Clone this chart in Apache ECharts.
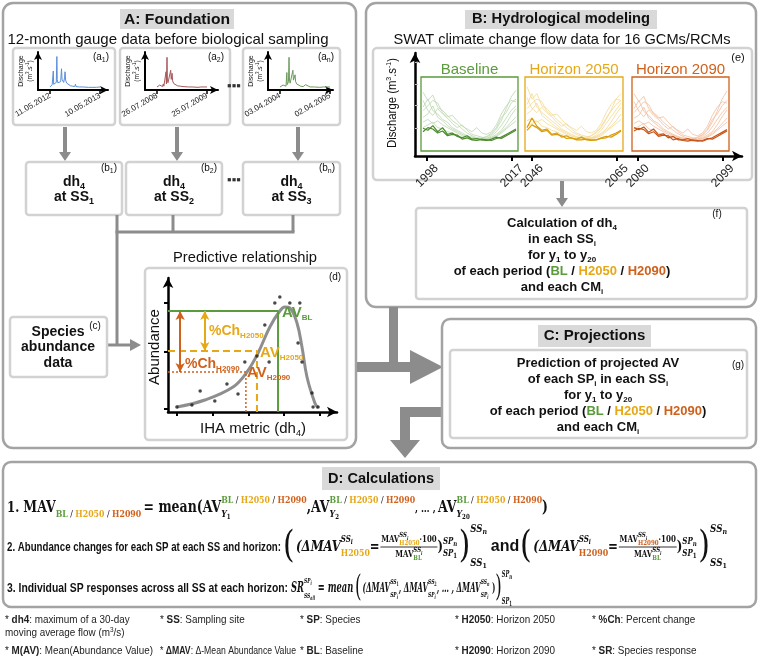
<!DOCTYPE html>
<html><head><meta charset="utf-8">
<script src="https://cdn.jsdelivr.net/npm/echarts@6/dist/echarts.min.js"></script>
<style>html,body{margin:0;padding:0;background:#fff}#main{width:759px;height:660px}</style>
</head><body><div id="main"></div>
<script>
// ================= DATA =================
// (a) 12-month gauge hydrographs: [day since window start, discharge]
const gaugeA1 = [[0,0.8],[10,0.9],[16,1.4],[20,0.9],[24,5.0],[27,1.5],[33,1.2],[40,1.1],[46,2.0],[50,8.8],[53,2.8],[57,1.9],[62,1.5],[70,1.4],[78,2.2],[84,5.6],[88,2.8],[94,2.3],[100,2.0],[106,3.2],[110,4.8],[114,2.6],[122,1.8],[135,1.3],[150,1.1],[165,1.0],[180,0.9],[186,1.5],[190,0.9],[215,0.8],[240,0.8],[246,1.3],[250,0.8],[280,0.7],[300,0.7],[306,1.2],[310,0.8],[340,0.7],[365,0.8]];
const gaugeA2 = [[0,0.8],[12,0.9],[20,1.3],[24,0.8],[40,0.9],[46,1.6],[50,1.0],[60,1.5],[66,4.8],[69,1.6],[73,8.6],[76,2.6],[80,1.9],[86,1.6],[94,2.4],[100,5.2],[104,2.8],[110,4.4],[114,2.4],[122,1.7],[135,1.3],[150,1.1],[170,1.0],[190,0.9],[196,1.4],[200,0.9],[230,0.8],[256,0.8],[262,1.3],[266,0.8],[300,0.7],[320,0.8],[326,1.2],[330,0.8],[365,0.8]];
const gaugeAn = [[0,0.8],[14,0.9],[22,1.3],[26,0.8],[44,1.0],[50,4.6],[53,1.4],[58,1.2],[62,2.2],[66,8.6],[69,2.6],[74,1.8],[80,1.5],[88,2.0],[94,5.2],[98,2.6],[104,2.2],[110,4.0],[114,2.2],[122,1.6],[135,1.2],[150,1.0],[170,0.9],[186,1.4],[190,0.9],[220,0.8],[250,0.8],[256,1.2],[260,0.8],[290,0.7],[318,0.8],[324,1.2],[328,0.8],[365,0.8]];
const gaugeStartLabels = ['11.05.2012','26.07.2008','03.04.2004'];
const gaugeEndLabels = ['10.05.2013','25.07.2009','02.04.2005'];
const gaugeTickDays = [0, 365];
const gaugeTags = ['1','2','n'];
const siteTags = ['1','2','3'];

// (e) SWAT flows per period (relative discharge over the year)
const periodNames = ['Baseline','Horizon 2050','Horizon 2090'];
const periodCodes = ['BL','H2050','H2090'];
const periodStartYears = [1998, 2046, 2080];
const periodEndYears = [2017, 2065, 2099];
const blRuns = [
 [82,70,78,60,55,48,40,35,28,22,18,15,14,16,20,28,40,58,75,85],
 [60,72,55,50,42,38,30,26,22,18,16,14,15,17,22,30,45,52,66,72],
 [45,50,62,45,40,33,28,24,20,17,15,13,12,14,18,24,33,44,55,62],
 [70,55,48,58,50,44,36,30,34,26,20,18,16,14,16,20,26,36,48,58],
 [38,42,36,40,34,30,26,22,18,16,14,13,12,13,15,18,24,30,38,46],
 [55,62,70,66,52,46,48,40,32,28,24,30,22,20,24,34,50,62,70,68],
 [30,34,38,30,28,24,22,18,16,14,12,12,11,12,14,17,22,28,34,40]];
const h2050Runs = [
 [90,72,80,62,58,50,42,36,30,24,20,17,15,18,22,30,42,56,72,80],
 [64,80,60,52,46,40,34,28,24,20,17,15,16,18,24,32,44,54,64,70],
 [50,56,66,48,42,36,30,26,22,18,16,14,13,15,19,26,36,46,56,66],
 [74,58,52,60,52,46,38,32,36,28,22,19,17,15,17,22,28,38,50,60],
 [40,44,38,42,36,32,28,24,20,17,15,14,13,14,16,20,26,32,40,50],
 [58,66,72,68,54,48,50,42,34,30,26,32,24,22,26,36,52,64,72,70],
 [32,36,40,32,30,26,24,20,17,15,13,13,12,13,15,18,24,30,36,42]];
const h2090Runs = [
 [80,68,76,58,52,46,38,32,26,21,17,14,13,15,19,26,38,54,72,84],
 [58,70,54,48,40,36,28,24,20,17,15,13,14,16,20,28,42,50,62,70],
 [44,48,60,44,38,32,26,22,19,16,14,12,11,13,17,22,31,42,52,60],
 [68,54,46,56,48,42,34,28,32,24,19,17,15,13,15,19,24,34,46,56],
 [36,40,35,38,32,28,24,20,17,15,13,12,11,12,14,17,22,28,36,44],
 [52,60,68,64,50,44,46,38,30,26,22,28,20,18,22,32,48,60,68,66],
 [28,32,36,28,26,22,20,17,15,13,11,11,10,11,13,16,20,26,32,38]];
const blMedians = [
 [29,26,33,24,30,20,22,17,15,18,13,14,12,11,13,16,14,18,22,26],
 [24,30,28,22,25,18,20,19,13,15,12,11,13,12,11,14,16,20,24,28]];
const h2050Medians = [
 [30,44,32,26,28,20,22,16,18,14,13,16,12,11,12,15,17,16,20,25],
 [26,34,30,24,26,19,20,18,14,15,12,12,13,12,12,14,15,19,22,26]];
const h2090Medians = [
 [30,27,31,23,28,19,21,15,17,12,12,14,11,10,11,14,13,17,21,25],
 [25,29,27,21,24,17,19,18,12,14,11,10,12,11,10,13,15,19,23,27]];

// (d) predictive relationship
const obsDh4 = [1.00,1.42,1.65,2.06,2.40,2.71,2.90,3.24,3.46,3.58,3.74,3.88,4.16,4.44,4.39,4.50,4.78,4.81,4.95];
const obsAbundance = [0.5,0.7,2.1,1.1,2.8,1.8,5.0,5.6,8.7,5.0,10.9,11.5,10.9,10.9,6.9,5.0,1.9,0.5,0.5];
const fitDh4 = [1.00,1.78,2.57,2.96,3.27,3.60,3.88,4.02,4.16,4.36,4.50,4.64,4.86,4.95];
const fitAbundance = [0.5,1.2,2.5,4.0,5.9,8.5,10.1,10.5,10.4,8.9,6.5,3.5,0.9,0.4];
const projDh4 = [3.83, 3.24, 2.93];   // BL, H2050, H2090
const projAV = [10.1, 6.1, 4.0];
const dTickX = [1,2,3,4,5];
const dTickY = [0.3, 6.0, 10.9];

// ================= STYLE =================
const SANS = '"Liberation Sans", Arial, sans-serif';
const SERIF = '"DejaVu Serif", "Liberation Serif", serif';
const GREEN = '#5a9b3b', YEL = '#e6a817', ORA = '#d0611c', GREY = '#8c8c8c';
const PANEL = '#a3a3a3', INNER = '#d2d2d2', TBOX = '#d9d9d9';
const periodColors = [GREEN, YEL, ORA];
const runColors = ['#bcd8ae','#f4da94','#f3bf9e'];
const medColors = ['#4a8a2c','#d99c0a','#c55418'];
const hydroColors = ['#5b8ed8','#a6585b','#6c9a5c'];

// ================= HELPERS =================
const G = [];
function rect(x,y,w,h,o={}){G.push({type:'rect',z:o.z??-1,shape:{x,y,width:w,height:h,r:o.r||0},style:{fill:o.fill||'none',stroke:o.stroke||'none',lineWidth:o.lw||0}});}
function pline(pts,o={}){G.push({type:'polyline',z:o.z??-1,shape:{points:pts},style:{stroke:o.color||GREY,lineWidth:o.lw||3,fill:null}});}
function poly(pts,o={}){G.push({type:'polygon',z:o.z??-1,shape:{points:pts},style:{fill:o.fill||GREY}});}
function block(x,y,w,h){rect(x,y,w,h,{fill:GREY});}

const mctx = document.createElement('canvas').getContext('2d');
function fstr(o){return (o.i?'italic ':'')+(o.b?'bold ':'')+o.size+'px '+(o.f||SANS);}
function T(s,o){return {k:'t',s,o};}
function S(sup,sub,o={}){return {k:'s',sup,sub,su:o.su??-8,sd:o.sd??5};}
function F(num,den,o={}){return {k:'f',num,den,nu:o.nu??-9,de:o.de??6,ly:o.ly??-5};}
function Gp(w){return {k:'g',w};}
function lay(toks,x0,dy0,out){
  let x=x0;
  for(const t of toks){
    if(t.k==='t'){mctx.font=fstr(t.o);const w=mctx.measureText(t.s).width;out.items.push({s:t.s,o:t.o,x,dy:dy0+(t.o.dy||0)});x+=w;}
    else if(t.k==='g'){x+=t.w;}
    else if(t.k==='s'){const w1=t.sup?lay(t.sup,x,dy0+t.su,out):0;const w2=t.sub?lay(t.sub,x,dy0+t.sd,out):0;x+=Math.max(w1,w2);}
    else if(t.k==='f'){const d={items:[],lines:[]};const w1=lay(t.num,0,0,d),w2=lay(t.den,0,0,d);const w=Math.max(w1,w2)+2;
      lay(t.num,x+(w-w1)/2,dy0+t.nu,out);lay(t.den,x+(w-w2)/2,dy0+t.de,out);out.lines.push({x1:x,x2:x+w,dy:dy0+t.ly});x+=w;}
  }
  return x-x0;
}
function math(x,base,toks,o={}){
  const out={items:[],lines:[]};
  const w=lay(toks,0,0,out);
  let s=o.fit?o.fit/w:(o.s||1);
  if(o.maxW && w*s>o.maxW) s=o.maxW/w;
  const ax=o.align==='center'?w/2:(o.align==='right'?w:0);
  const ch=[];
  out.items.forEach(it=>ch.push({type:'text',z:10,x:it.x-ax,y:it.dy-0.35*it.o.size,
    style:{text:it.s,font:fstr(it.o),fill:it.o.c||o.c||'#111',textAlign:'left',textVerticalAlign:'middle',align:'left',verticalAlign:'middle'}}));
  out.lines.forEach(l=>ch.push({type:'line',z:10,shape:{x1:l.x1-ax,y1:l.dy,x2:l.x2-ax,y2:l.dy},style:{stroke:'#000',lineWidth:0.9}}));
  G.push({type:'group',x,y:base,rotation:o.rot||0,scaleX:s,z:10,children:ch});
}
const n=(size,extra={})=>Object.assign({f:SANS,size},extra);
const b=(size,extra={})=>Object.assign({f:SANS,b:true,size},extra);
const fb=(size,extra={})=>Object.assign({f:SERIF,b:true,size},extra);
function subTxt(main,sub,size,extra={}){return [T(main,b(size,extra)),T(sub,b(Math.round(size*0.62),Object.assign({},extra,{dy:size*0.22})))];}
function tag(x,y,letter,idx){math(x,y,[T('('+letter,n(10)),T(idx,n(7,{dy:2})),T(')',n(10))],{align:'center'});}
function vArrow(x,y1,y2){pline([[x,y1],[x,y2-8]],{lw:4});poly([[x-6,y2-9],[x+6,y2-9],[x,y2]]);}

// ================= PANELS / BOXES =================
// Panel A
rect(3,3,353,445,{r:10,stroke:PANEL,lw:2.5});
rect(120,9,114,20,{fill:TBOX});
math(177,25,[T('A: Foundation',b(15))],{align:'center',fit:106});
math(168,45.5,[T('12-month gauge data before biological sampling',n(15))],{align:'center',fit:321});
const gaugeBoxes=[{x:13,w:102},{x:120,w:110},{x:243,w:97}];
gaugeBoxes.forEach((bx,i)=>{rect(bx.x,48,bx.w,77,{r:3,stroke:INNER,lw:2.5});tag(bx.x+bx.w-14,61,'a',gaugeTags[i]);});
math(234,91,[T('▪▪▪',b(13,{c:'#333'}))],{align:'center'});
[65,177,298].forEach(x=>vArrow(x,127,161));
const siteBoxes=[{x:26,w:96},{x:126,w:96},{x:243,w:97}];
siteBoxes.forEach((bx,i)=>{
  rect(bx.x,162,bx.w,53,{r:3,stroke:INNER,lw:2.5});
  tag(bx.x+bx.w-13,172,'b',gaugeTags[i]);
  math(bx.x+bx.w/2,187,subTxt('dh','4',14),{align:'center'});
  math(bx.x+bx.w/2,202,subTxt('at SS',siteTags[i],14),{align:'center'});
});
math(234,185,[T('▪▪▪',b(13,{c:'#333'}))],{align:'center'});
pline([[117,215],[117,232]]);pline([[173,215],[173,232]]);pline([[293,215],[293,232]]);
pline([[115.5,232],[294.5,232]]);
pline([[117,232],[117,345]]);
pline([[107,345],[131,345]]);poly([[130,339],[130,351],[141,345]]);
rect(10,317,97,60,{r:3,stroke:INNER,lw:2.5});
math(58,337,[T('Species',b(14))],{align:'center'});
math(58,352,[T('abundance',b(14))],{align:'center'});
math(58,368,[T('data',b(14))],{align:'center'});
math(95,330,[T('(c)',n(10))],{align:'center'});
math(245,263.5,[T('Predictive relationship',n(15))],{align:'center',fit:144});
rect(145,268,202,172,{r:4,stroke:INNER,lw:2.5});
math(335,281,[T('(d)',n(10))],{align:'center'});
math(160.5,347,[T('Abundance',n(15))],{align:'center',rot:Math.PI/2});
math(253,434,[T('IHA metric (dh',n(15)),T('4',n(9,{dy:3})),T(')',n(15))],{align:'center'});
math(282,318,[T('AV',b(15,{c:GREEN})),T('BL',b(8,{c:GREEN,dy:3}))]);
math(260,358,[T('AV',b(15,{c:YEL})),T('H2050',b(8,{c:YEL,dy:3}))]);
math(247,378,[T('AV',b(15,{c:ORA})),T('H2090',b(8,{c:ORA,dy:3}))]);
math(209,336,[T('%Ch',b(14,{c:YEL})),T('H2050',b(8,{c:YEL,dy:3}))]);
math(185,369,[T('%Ch',b(14,{c:ORA})),T('H2090',b(8,{c:ORA,dy:3}))]);

// Panel B
rect(366,3,390,304,{r:10,stroke:PANEL,lw:2.5});
rect(465,10,192,19,{fill:TBOX});
math(561,24.5,[T('B: Hydrological modeling',b(15))],{align:'center',fit:178});
math(562,45,[T('SWAT climate change flow data for 16 GCMs/RCMs',n(15))],{align:'center',fit:337});
rect(373,48,379,132,{r:4,stroke:INNER,lw:2.5});
math(738,62,[T('(e)',n(11))],{align:'center'});
math(397,103,[T('Discharge (m',n(13)),T('3',n(8,{dy:-5})),T('.s',n(13)),T('-1',n(8,{dy:-5})),T(')',n(13))],{align:'center',rot:Math.PI/2,fit:90});
const eBoxes=[{x:421,w:97},{x:525,w:98},{x:632,w:97}];
eBoxes.forEach((bx,p)=>{rect(bx.x,77,bx.w,74,{stroke:periodColors[p],lw:1.3,z:5});
  math(bx.x+bx.w/2,75,[T(periodNames[p],n(15,{c:periodColors[p]}))],{align:'center'});});
vArrow(562,181,207);
rect(416,208,331,91,{r:3,stroke:INNER,lw:2.5});
math(717,218,[T('(f)',n(10))],{align:'center'});
const B13=b(13), SB8={dy:2.5};
function sb(s){return T(s,b(8,SB8));}
function periodLine(){return [T('of each period (',B13),T('BL',b(13,{c:GREEN})),T(' / ',B13),T('H2050',b(13,{c:YEL})),T(' / ',B13),T('H2090',b(13,{c:ORA})),T(')',B13)];}
math(562,228,[T('Calculation of dh',B13),sb('4')],{align:'center'});
math(562,244,[T('in each SS',B13),sb('i')],{align:'center'});
math(562,260,[T('for y',B13),sb('1'),T(' to y',B13),sb('20')],{align:'center'});
math(562,276,periodLine(),{align:'center'});
math(562,292,[T('and each CM',B13),sb('i')],{align:'center'});

// thick arrows
block(389,307,9,65);
block(357,362,55,10);
poly([[410,350],[443,367],[410,384]]);
block(400,407,42,10);
block(400,407,10,34);
poly([[390,440],[420,440],[405,458]]);

// Panel C
rect(442,319,314,129,{r:8,stroke:PANEL,lw:2.5});
rect(538,325,113,22,{fill:TBOX});
math(594.5,341.5,[T('C: Projections',b(15))],{align:'center'});
rect(450,350,297,88,{r:3,stroke:INNER,lw:2.5});
math(738,369,[T('(g)',n(10))],{align:'center'});
math(598,368,[T('Prediction of projected AV',B13)],{align:'center'});
math(598,384,[T('of each SP',B13),sb('i'),T(' in each SS',B13),sb('i')],{align:'center'});
math(598,400,[T('for y',B13),sb('1'),T(' to y',B13),sb('20')],{align:'center'});
math(598,416,periodLine(),{align:'center'});
math(598,432,[T('and each CM',B13),sb('i')],{align:'center'});

// Panel D
rect(3,462,753,145,{r:8,stroke:PANEL,lw:2.5});
rect(322,467,118,23,{fill:TBOX});
math(381,484.5,[T('D: Calculations',b(15))],{align:'center',fit:106});
function codes(sz){return [T('BL',fb(sz,{c:GREEN})),T(' / ',fb(sz,{b:false})),T('H2050',fb(sz,{c:YEL})),T(' / ',fb(sz,{b:false})),T('H2090',fb(sz,{c:ORA}))];}
function yidx(k){return [T('Y',fb(10,{i:true})),T(k,fb(7,{dy:2}))];}
math(7,513,[T('1. ',fb(15)),T('MAV',fb(16)),S(null,codes(10),{sd:5}),Gp(3),T('= mean(',fb(16)),
  T('AV',fb(16)),S(codes(10),yidx('1'),{su:-9,sd:5}),T(',',fb(16)),
  T('AV',fb(16)),S(codes(10),yidx('2'),{su:-9,sd:5}),T(', … ,',fb(11)),Gp(3),
  T('AV',fb(16)),S(codes(10),yidx('20'),{su:-9,sd:5}),T(')',fb(16))],{fit:541});
function ssi(sz){return [T('SS',fb(sz,{i:true})),T('i',fb(Math.round(sz*0.75),{i:true,dy:2}))];}
function idx(m,k,sz,it=true){return [T(m,fb(sz,{i:true})),T(k,fb(Math.round(sz*0.75),{i:it,dy:2}))];}
function dmav(code,col){return [
  T('(',fb(38,{b:false,dy:8})),Gp(2),
  T('(ΔMAV',fb(15,{i:true})),S(ssi(9),[T(code,fb(10,{c:col}))],{su:-9,sd:5}),
  T('=',fb(15)),Gp(1),
  F([T('MAV',fb(9)),S(ssi(7),[T(code,fb(7,{c:col}))],{su:-5,sd:3}),T('·100',fb(9))],
    [T('MAV',fb(9)),S(ssi(7),[T('BL',fb(7,{c:GREEN}))],{su:-5,sd:3})]),
  T(')',fb(15)),S(idx('SP','n',9),idx('SP','1',9,false),{su:-7,sd:5}),
  Gp(2),T(')',fb(38,{b:false,dy:8})),
  S(idx('SS','n',11),idx('SS','1',11,false),{su:-19,sd:15})];}
math(7,552,[T('2. Abundance changes for each SP at each SS and horizon:',b(13))],{fit:274});
math(283,552,dmav('H2050',YEL),{fit:204});
math(505,552,[T('and',b(16))],{align:'center'});
math(520,552,dmav('H2090',ORA),{fit:207});
math(7,593,[T('3. Individual SP responses across all SS at each horizon:',b(13))],{fit:281});
math(291,593,[T('SR',fb(15,{i:true})),S(idx('SP','i',8),idx('SS','all',8),{su:-9,sd:6}),T(' = ',fb(15)),T('mean',fb(15,{i:true})),Gp(3),
  T('(',fb(30,{b:false,dy:6})),Gp(2),T('(ΔMAV',fb(13,{i:true})),S(idx('SS','1',8,false),idx('SP','i',8),{su:-8,sd:5}),
  T(', ΔMAV',fb(13,{i:true})),S(idx('SS','2',8,false),idx('SP','i',8),{su:-8,sd:5}),
  T(', … , ΔMAV',fb(13,{i:true})),S(idx('SS','n',8),idx('SP','i',8),{su:-8,sd:5}),
  T(' )',fb(13)),T(')',fb(30,{b:false,dy:6})),S(idx('SP','n',9),idx('SP','1',9,false),{su:-15,sd:12})],{fit:221});

// footnotes
const FN=n(11.5,{c:'#222'}), FB=b(11.5,{c:'#222'});
const notes1=[['dh4',': maximum of a 30-day'],['SS',': Sampling site'],['SP',': Species'],['H2050',': Horizon 2050'],['%Ch',': Percent change']];
const notes2=[['M(AV)',': Mean(Abundance Value)'],['ΔMAV',': Δ-Mean Abundance Value'],['BL',': Baseline'],['H2090',': Horizon 2090'],['SR',': Species response']];
const noteX=[5,160,300,455,592], noteW=[148,136,148,132,158];
notes1.forEach((t,i)=>math(noteX[i],624,[T('* ',FN),T(t[0],FB),T(t[1],FN)],{s:0.86,maxW:noteW[i]}));
math(5,637,[T('moving average flow (m',FN),T('3',n(7.5,{c:'#222',dy:-4})),T('/s)',FN)],{s:0.86,maxW:noteW[0]});
notes2.forEach((t,i)=>math(noteX[i],655,[T('* ',FN),T(t[0],FB),T(t[1],FN)],{s:0.86,maxW:noteW[i]}));

// ================= CHARTS =================
const grids=[],xAxes=[],yAxes=[],series=[];
function addGrid(g,xa,ya){g.outerBoundsMode='none';g.containLabel=false;grids.push(g);xa.gridIndex=ya.gridIndex=grids.length-1;xAxes.push(xa);yAxes.push(ya);return grids.length-1;}
const arrowLine=(w,sz)=>({show:true,onZero:false,lineStyle:{color:'#000',width:w},symbol:['none','arrow'],symbolSize:sz});
const hidden={show:false};

// (a) mini hydrographs
[gaugeA1,gaugeA2,gaugeAn].forEach((data,i)=>{
  const left=gaugeBoxes[i].x+25, width=[70,73,65][i], pxDay=50/365;
  const k=addGrid({left,top:52,width,height:38},
    {type:'value',min:-12/pxDay,max:(width-12)/pxDay,axisLine:arrowLine(2,[6,8]),
     axisTick:{show:true,customValues:gaugeTickDays,length:4,lineStyle:{color:'#000',width:1.5}},
     axisLabel:{show:true,customValues:gaugeTickDays,formatter:v=>v===0?gaugeStartLabels[i]:gaugeEndLabels[i],rotate:30,fontSize:8,margin:5,color:'#222',fontFamily:SANS},
     splitLine:hidden},
    {type:'value',min:0,max:10,axisLine:arrowLine(2,[6,8]),axisTick:hidden,axisLabel:hidden,splitLine:hidden});
  series.push({type:'line',xAxisIndex:k,yAxisIndex:k,data,showSymbol:false,silent:true,lineStyle:{color:hydroColors[i],width:1},z:4});
  const ax=left;
  math(ax-14,71,[T('Discharge',n(7))],{align:'center',rot:Math.PI/2});
  math(ax-6,71,[T('(m',n(6.5)),T('3',n(4.5,{dy:-3})),T('.s',n(6.5)),T('-1',n(4.5,{dy:-3})),T(')',n(6.5))],{align:'center',rot:Math.PI/2});
});

// (e) common time axis
const eOffsets=[0,23.5,47.2];
const eTickVals=[],eTickLabels=[];
periodStartYears.forEach((y0,p)=>{eTickVals.push(eOffsets[p],eOffsets[p]+periodEndYears[p]-y0);eTickLabels.push(String(y0),String(periodEndYears[p]));});
const ek=addGrid({left:415,top:53,width:327,height:103},
  {type:'value',min:-2.7,max:70.5,axisLine:arrowLine(2.5,[8,10]),
   axisTick:{show:true,customValues:eTickVals,length:5,lineStyle:{color:'#000',width:2}},
   axisLabel:{show:true,customValues:eTickVals,formatter:v=>eTickLabels[eTickVals.indexOf(v)],rotate:45,align:'center',verticalAlign:'middle',fontSize:12,margin:20,color:'#222',fontFamily:SANS},
   splitLine:hidden},
  {type:'value',min:0,max:10,axisLine:arrowLine(2.5,[8,10]),
   axisTick:{show:true,inside:true,customValues:[2.7,4.9,7.0,9.1],length:3,lineStyle:{color:'#bbb',width:1}},axisLabel:hidden,splitLine:hidden});
series.push({type:'line',xAxisIndex:ek,yAxisIndex:ek,data:[],silent:true});
// (e) period panels
const runSets=[blRuns,h2050Runs,h2090Runs], medSets=[blMedians,h2050Medians,h2090Medians];
eBoxes.forEach((bx,p)=>{
  const cats=blRuns[0].map((_,j)=>j);
  const k=addGrid({left:bx.x+2,top:80,width:bx.w-4,height:68},
    {type:'category',data:cats,boundaryGap:false,axisLine:hidden,axisTick:hidden,axisLabel:hidden,splitLine:hidden},
    {type:'value',min:0,max:100,axisLine:hidden,axisTick:hidden,axisLabel:hidden,splitLine:hidden});
  runSets[p].forEach(r=>series.push({type:'line',xAxisIndex:k,yAxisIndex:k,data:r,showSymbol:false,silent:true,lineStyle:{color:runColors[p],width:0.9,opacity:0.9},z:3}));
  medSets[p].forEach(r=>series.push({type:'line',xAxisIndex:k,yAxisIndex:k,data:r,showSymbol:false,silent:true,lineStyle:{color:medColors[p],width:1.2},z:4}));
});

// (d) predictive relationship
const dk=addGrid({left:168,top:278,width:169,height:134},
  {type:'value',min:0.75,max:5.48,axisLine:arrowLine(2.5,[8,10]),
   axisTick:{show:true,customValues:dTickX,length:4,lineStyle:{color:'#000',width:2}},axisLabel:hidden,splitLine:hidden},
  {type:'value',min:0,max:13.4,axisLine:arrowLine(2.5,[8,10]),
   axisTick:{show:true,customValues:dTickY,length:4,lineStyle:{color:'#000',width:2}},axisLabel:hidden,splitLine:hidden});
series.push({type:'line',xAxisIndex:dk,yAxisIndex:dk,data:fitDh4.map((x,i)=>[x,fitAbundance[i]]),smooth:0.4,showSymbol:false,silent:true,lineStyle:{color:'#8e8e8e',width:3},z:3});
series.push({type:'scatter',xAxisIndex:dk,yAxisIndex:dk,data:obsDh4.map((x,i)=>[x,obsAbundance[i]]),symbolSize:3.5,itemStyle:{color:'#1a1a1a'},silent:true,z:5});
const guideStyles=[{color:GREEN,width:2,type:'solid'},{color:YEL,width:2,type:[7,4]},{color:ORA,width:1.5,type:[2,2]}];
const chArrowX=[null,1.78,1.09];
projDh4.forEach((x,p)=>{
  const s={type:'line',xAxisIndex:dk,yAxisIndex:dk,data:[[0.75,projAV[p]],[x,projAV[p]],[x,0]],showSymbol:false,silent:true,lineStyle:guideStyles[p],z:4};
  if(p>0) s.markLine={silent:true,symbol:['arrow','arrow'],symbolSize:[7,9],label:{show:false},lineStyle:{type:'solid',width:2,color:periodColors[p]},
    data:[[{coord:[chArrowX[p],projAV[0]]},{coord:[chArrowX[p],projAV[p]]}]]};
  series.push(s);
});

const chart=echarts.init(document.getElementById('main'),null,{width:759,height:660,renderer:'canvas'});
chart.setOption({animation:false,backgroundColor:'#fff',grid:grids,xAxis:xAxes,yAxis:yAxes,series,graphic:{elements:G}});
</script></body></html>
